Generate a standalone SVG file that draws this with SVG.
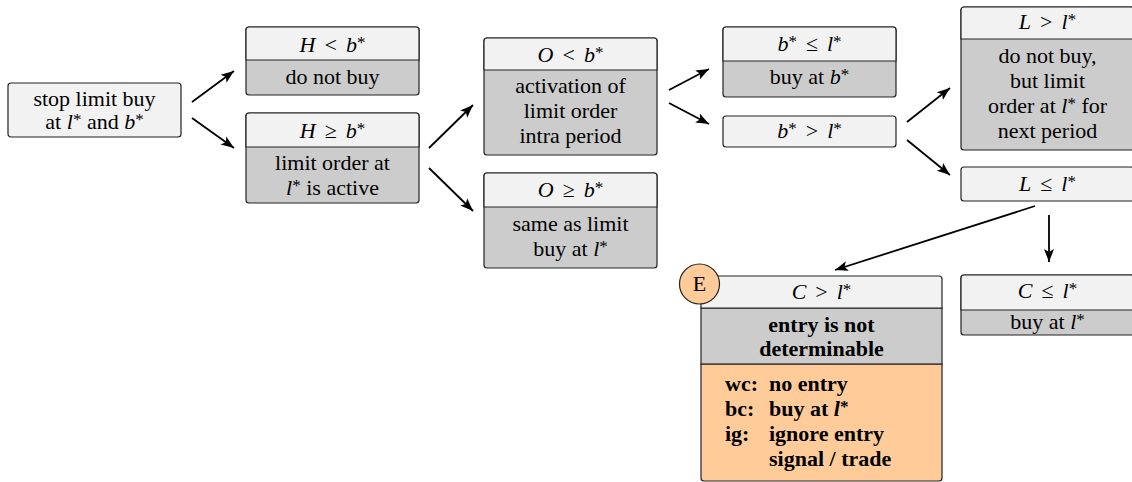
<svg xmlns="http://www.w3.org/2000/svg" width="1132" height="482" viewBox="0 0 1132 482">
<style>
.c{font-family:'Liberation Serif',serif;font-size:22px;text-anchor:middle}
.k{font-family:'Liberation Serif',serif;font-size:22px;font-weight:bold;text-anchor:middle}
.kl{font-family:'Liberation Serif',serif;font-size:22px;font-weight:bold}
.i{font-style:italic}
.s{font-size:17px}
.hd{fill:#f2f2f2;stroke:#222;stroke-width:1.2}
.bd{fill:#cccccc;stroke:#222;stroke-width:1.2}
.or{fill:#ffcc99;stroke:#222;stroke-width:1.2}
.ar{stroke:#000;stroke-width:1.8;fill:none;marker-end:url(#ah)}
</style>
<defs>
<marker id="ah" markerUnits="userSpaceOnUse" markerWidth="16" markerHeight="12" refX="13" refY="5" orient="auto" viewBox="0 0 16 10">
<path d="M0,0 L13,5 L0,10 L3,5 z" fill="#000"/>
</marker>
</defs>

<g id="connectors">
<line class="ar" x1="192" y1="102" x2="234" y2="71"/>
<line class="ar" x1="192" y1="118" x2="234" y2="148"/>
<line class="ar" x1="429" y1="148" x2="473" y2="105"/>
<line class="ar" x1="429" y1="168" x2="473" y2="211"/>
<line class="ar" x1="669" y1="90" x2="709" y2="69"/>
<line class="ar" x1="669" y1="103" x2="709" y2="124"/>
<line class="ar" x1="907" y1="122" x2="950" y2="88"/>
<line class="ar" x1="907" y1="140" x2="950" y2="175"/>
<line class="ar" x1="1049" y1="215" x2="1049" y2="262"/>
<line class="ar" x1="1035" y1="206" x2="835" y2="270"/>
</g>

<g id="start">
<rect class="hd" x="8" y="83" width="173" height="54" rx="3"/>
<text class="c" x="94.5" y="106">stop limit buy</text>
<text class="c" x="94.5" y="129">at <tspan class="i">l</tspan><tspan class="s" dy="-4">*</tspan><tspan dy="4"> and </tspan><tspan class="i">b</tspan><tspan class="s" dy="-4">*</tspan></text>
</g>

<g id="h-less">
<rect class="bd" x="246" y="27" width="173" height="68" rx="3"/>
<path class="hd" d="M246,60 V30 a3,3 0 0 1 3,-3 H416 a3,3 0 0 1 3,3 V60 z"/>
<text class="c" x="332.5" y="52"><tspan class="i">H</tspan><tspan dx="9">&lt;</tspan><tspan class="i" dx="9">b</tspan><tspan class="s" dy="-4">*</tspan></text>
<text class="c" x="332.5" y="84">do not buy</text>
</g>

<g id="h-geq">
<rect class="bd" x="246" y="113" width="173" height="90" rx="3"/>
<path class="hd" d="M246,147 V116 a3,3 0 0 1 3,-3 H416 a3,3 0 0 1 3,3 V147 z"/>
<text class="c" x="332.5" y="138"><tspan class="i">H</tspan><tspan dx="9">≥</tspan><tspan class="i" dx="9">b</tspan><tspan class="s" dy="-4">*</tspan></text>
<text class="c" x="332.5" y="170">limit order at</text>
<text class="c" x="332.5" y="195"><tspan class="i">l</tspan><tspan class="s" dy="-4">*</tspan><tspan dy="4"> is active</tspan></text>
</g>

<g id="o-less">
<rect class="bd" x="484" y="38" width="173" height="117" rx="3"/>
<path class="hd" d="M484,70 V41 a3,3 0 0 1 3,-3 H654 a3,3 0 0 1 3,3 V70 z"/>
<text class="c" x="570.5" y="62"><tspan class="i">O</tspan><tspan dx="9">&lt;</tspan><tspan class="i" dx="9">b</tspan><tspan class="s" dy="-4">*</tspan></text>
<text class="c" x="570.5" y="93">activation of</text>
<text class="c" x="570.5" y="118">limit order</text>
<text class="c" x="570.5" y="143">intra period</text>
</g>

<g id="o-geq">
<rect class="bd" x="484" y="173" width="173" height="95" rx="3"/>
<path class="hd" d="M484,207 V176 a3,3 0 0 1 3,-3 H654 a3,3 0 0 1 3,3 V207 z"/>
<text class="c" x="570.5" y="197"><tspan class="i">O</tspan><tspan dx="9">≥</tspan><tspan class="i" dx="9">b</tspan><tspan class="s" dy="-4">*</tspan></text>
<text class="c" x="570.5" y="231">same as limit</text>
<text class="c" x="570.5" y="256">buy at <tspan class="i">l</tspan><tspan class="s" dy="-4">*</tspan></text>
</g>

<g id="b-leq">
<rect class="bd" x="723" y="27" width="173" height="70" rx="3"/>
<path class="hd" d="M723,61 V30 a3,3 0 0 1 3,-3 H893 a3,3 0 0 1 3,3 V61 z"/>
<text class="c" x="809.5" y="51"><tspan class="i">b</tspan><tspan class="s" dy="-4">*</tspan><tspan dx="9" dy="4">≤</tspan><tspan class="i" dx="9">l</tspan><tspan class="s" dy="-4">*</tspan></text>
<text class="c" x="809.5" y="84">buy at <tspan class="i">b</tspan><tspan class="s" dy="-4">*</tspan></text>
</g>

<g id="b-greater">
<rect class="hd" x="723" y="116" width="173" height="31" rx="3"/>
<text class="c" x="809.5" y="138"><tspan class="i">b</tspan><tspan class="s" dy="-4">*</tspan><tspan dx="9" dy="4">&gt;</tspan><tspan class="i" dx="9">l</tspan><tspan class="s" dy="-4">*</tspan></text>
</g>

<g id="l-greater">
<rect class="bd" x="961" y="7" width="173" height="143" rx="3"/>
<path class="hd" d="M961,39 V10 a3,3 0 0 1 3,-3 H1131 a3,3 0 0 1 3,3 V39 z"/>
<text class="c" x="1047.5" y="29"><tspan class="i">L</tspan><tspan dx="9">&gt;</tspan><tspan class="i" dx="9">l</tspan><tspan class="s" dy="-4">*</tspan></text>
<text class="c" x="1047.5" y="63">do not buy,</text>
<text class="c" x="1047.5" y="88">but limit</text>
<text class="c" x="1047.5" y="113">order at <tspan class="i">l</tspan><tspan class="s" dy="-4">*</tspan><tspan dy="4"> for</tspan></text>
<text class="c" x="1047.5" y="138">next period</text>
</g>

<g id="l-leq">
<rect class="hd" x="961" y="167" width="173" height="34" rx="3"/>
<text class="c" x="1047.5" y="191"><tspan class="i">L</tspan><tspan dx="9">≤</tspan><tspan class="i" dx="9">l</tspan><tspan class="s" dy="-4">*</tspan></text>
</g>

<g id="c-leq">
<rect class="bd" x="961" y="275" width="173" height="60" rx="3"/>
<path class="hd" d="M961,310 V278 a3,3 0 0 1 3,-3 H1131 a3,3 0 0 1 3,3 V310 z"/>
<text class="c" x="1047.5" y="298"><tspan class="i">C</tspan><tspan dx="9">≤</tspan><tspan class="i" dx="9">l</tspan><tspan class="s" dy="-4">*</tspan></text>
<text class="c" x="1047.5" y="329">buy at <tspan class="i">l</tspan><tspan class="s" dy="-4">*</tspan></text>
</g>

<g id="c-greater">
<path class="or" d="M701,364 V478 a3,3 0 0 0 3,3 H939 a3,3 0 0 0 3,-3 V364 z"/>
<rect class="bd" x="701" y="308" width="241" height="56"/>
<path class="hd" d="M701,308 V279 a3,3 0 0 1 3,-3 H939 a3,3 0 0 1 3,3 V308 z"/>
<text class="c" x="821.5" y="299"><tspan class="i">C</tspan><tspan dx="9">&gt;</tspan><tspan class="i" dx="9">l</tspan><tspan class="s" dy="-4">*</tspan></text>
<text class="k" x="821.5" y="332">entry is not</text>
<text class="k" x="821.5" y="356">determinable</text>
<text class="kl" x="725" y="391">wc:</text>
<text class="kl" x="769" y="391">no entry</text>
<text class="kl" x="725" y="416">bc:</text>
<text class="kl" x="769" y="416">buy at <tspan class="i">l</tspan><tspan class="s" dy="-4">*</tspan></text>
<text class="kl" x="725" y="441">ig:</text>
<text class="kl" x="769" y="441">ignore entry</text>
<text class="kl" x="769" y="466">signal / trade</text>
</g>

<g id="badge-e">
<circle cx="699.5" cy="284" r="20" fill="#ffcc99" stroke="#222" stroke-width="1.2"/>
<text class="c" x="699.5" y="291">E</text>
</g>
</svg>
